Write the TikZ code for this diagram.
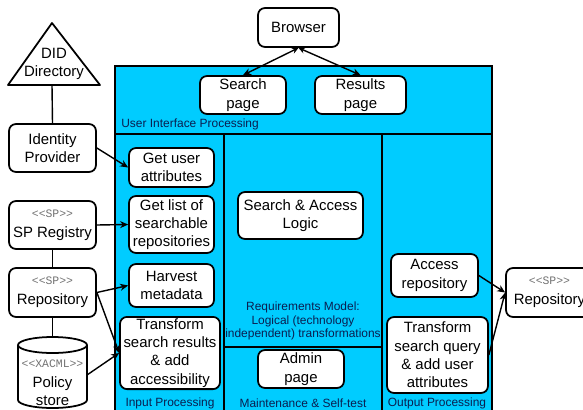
\documentclass[tikz,border=0pt]{standalone}
\usepackage{fontspec}
\setmainfont{Liberation Sans}
\newfontfamily\stereofont{Liberation Mono}
\usepackage{xcolor}
\usepackage{tikz}
\usetikzlibrary{arrows.meta}

\begin{document}
\begin{tikzpicture}[
      x=0.02cm, y=-0.02cm,
      font=\fontsize{8.5}{10.4}\selectfont,
      boxc/.style={rectangle, rounded corners=4pt, draw, fill=white, line width=1pt,
        align=center, inner sep=1pt},
      lbl/.style={font=\fontsize{6.8}{7.9}\selectfont, text=uilabel, align=center, inner sep=0pt},
      flow/.style={-{Stealth[length=1.6mm,width=1.4mm]}, line width=0.8pt},
      both/.style={{Stealth[length=1.3mm,width=1.2mm]}-{Stealth[length=1.6mm,width=1.4mm]}, line width=0.8pt},
      link/.style={line width=0.8pt},
    ]
    \definecolor{uifill}{RGB}{0,204,255}
    \definecolor{uilabel}{RGB}{10,30,80}

    \useasboundingbox (0,0) rectangle (583,410);

    % processing regions
    \draw[fill=uifill, line width=1.1pt] (115,66) rectangle (492,416);
    \draw[line width=1.1pt] (115,134) -- (492,134);
    \draw[line width=1.1pt] (224,134) -- (224,416);
    \draw[line width=1.1pt] (382,134) -- (382,416);
    \draw[line width=1.1pt] (224,347) -- (382,347);

    \node[lbl, anchor=west] (uilbl) at (121,124) {User Interface Processing};
    \node[lbl] (inlbl)  at (170,403) {Input Processing};
    \node[lbl] (reqlbl) at (303,321) {Requirements Model:\\Logical (technology\\independent) transformations};
    \node[lbl] (mtlbl)  at (303,403) {Maintenance \& Self-test};
    \node[lbl] (outlbl) at (437,403) {Output Processing};

    % user interface
    \node[boxc, minimum width=1.62cm, minimum height=0.78cm] (browser) at (298.5,27.5) {Browser};
    \node[boxc, minimum width=1.72cm, minimum height=0.76cm] (search)  at (243,95)    {Search\\page};
    \node[boxc, minimum width=1.82cm, minimum height=0.76cm] (results) at (360.5,95)  {Results\\page};

    % input processing
    \node[boxc, minimum width=1.70cm, minimum height=0.78cm] (getattr)  at (171.5,167.5) {Get user\\attributes};
    \node[boxc, minimum width=1.70cm, minimum height=1.14cm] (getlist)  at (171.5,224.5) {Get list of\\searchable\\repositories};
    \node[boxc, minimum width=1.70cm, minimum height=0.86cm] (harvest)  at (171.5,285.5) {Harvest\\metadata};
    \node[boxc, minimum width=2.00cm, minimum height=1.44cm] (transres) at (170,353)     {Transform\\search results\\\& add\\accessibility};

    % logic and maintenance
    \node[boxc, minimum width=2.50cm, minimum height=0.94cm] (logic) at (300.5,215.5) {Search \& Access\\Logic};
    \node[boxc, minimum width=1.72cm, minimum height=0.76cm] (admin) at (301,369)     {Admin\\page};

    % output processing
    \node[boxc, minimum width=1.74cm, minimum height=0.86cm] (access) at (434.5,275.5) {Access\\repository};
    \node[boxc, minimum width=2.02cm, minimum height=1.52cm] (transq) at (437.5,355)   {Transform\\search query\\\& add user\\attributes};

    % external parties
    \draw[fill=white, line width=1pt, line join=round] (52,23) -- (100,85) -- (8,85) -- cycle;
    \node[align=center, inner sep=0pt] (did) at (54,64) {DID\\Directory};
    \coordinate (didbase) at (52,85);

    \node[boxc, minimum width=1.74cm, minimum height=0.96cm] (idp)   at (52.5,148) {Identity\\Provider};
    \node[boxc, minimum width=1.74cm, minimum height=0.96cm] (spreg) at (52.5,225) {{\stereofont\fontsize{6.5}{7}\selectfont\color{black!55}<<SP>>}\\[1pt]SP Registry};
    \node[boxc, minimum width=1.74cm, minimum height=0.98cm] (repol) at (52.5,292.5) {{\stereofont\fontsize{6.5}{7}\selectfont\color{black!55}<<SP>>}\\[1pt]Repository};
    \node[boxc, minimum width=1.74cm, minimum height=0.98cm] (repor) at (549.5,292.5) {{\stereofont\fontsize{6.5}{7}\selectfont\color{black!55}<<SP>>}\\[1pt]Repository};

    \draw[fill=white, line width=1pt] (18,345) -- (18,400) arc (180:360:0.69cm and 0.16cm) -- (87,345);
    \draw[fill=white, line width=1pt] (52.5,345) ellipse (0.69cm and 0.16cm);
    \node[align=center, inner sep=0pt] (policy) at (52.5,383) {{\stereofont\fontsize{6.5}{7}\selectfont\color{black!55}<<XACML>>}\\[1pt]Policy\\store};
    \coordinate (policytop) at (52.5,337);
    \coordinate (policyside) at (87,375);

    % connectors
    \draw[both] (browser.south) -- (search.north);
    \draw[both] (browser.south) -- (results.north);
    \draw[link] (didbase) -- (idp.north);
    \draw[link] (spreg.south) -- (repol.north);
    \draw[link] (repol.south) -- (policytop);
    \draw[flow] (idp.east) -- (getattr.west);
    \draw[flow] (spreg.east) -- (getlist.west);
    \draw[flow] (repol.east) -- (harvest.west);
    \draw[flow] (repol.east) -- (transres.west);
    \draw[flow] (policyside) -- (transres.west);
    \draw[flow] (access.east) -- (repor.west);
    \draw[flow] (transq.east) -- (repor.west);
  \end{tikzpicture}
\end{document}
